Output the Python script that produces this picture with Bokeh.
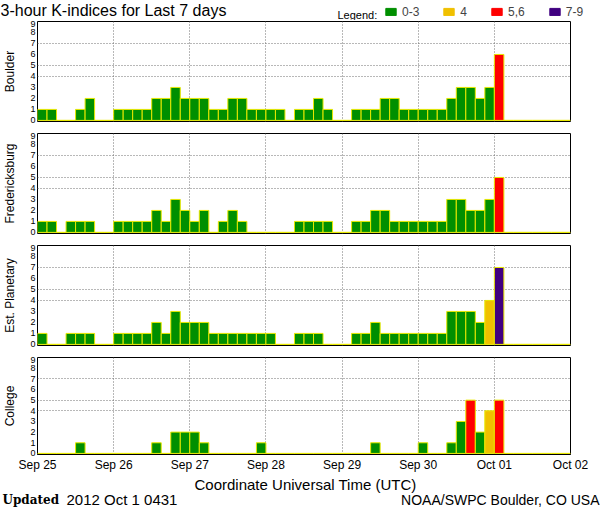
from bokeh.plotting import figure
from bokeh.models import Range1d, FixedTicker, Label, Legend, LegendItem, ColumnDataSource
from bokeh.layouts import column
from bokeh.embed import file_html
from bokeh.resources import INLINE

# ---------------- data ----------------
day_labels = ["Sep 25", "Sep 26", "Sep 27", "Sep 28", "Sep 29", "Sep 30", "Oct 01", "Oct 02"]
stations = ["Boulder", "Fredericksburg", "Est. Planetary", "College"]

boulder = [1, 1, 0, 0, 1, 2, 0, 0,
           1, 1, 1, 1, 2, 2, 3, 2,
           2, 2, 1, 1, 2, 2, 1, 1,
           1, 1, 0, 1, 1, 2, 1, 0,
           0, 1, 1, 1, 2, 2, 1, 1,
           1, 1, 1, 2, 3, 3, 2, 3,
           6, 0, 0, 0, 0, 0, 0, 0]
fredericksburg = [1, 1, 0, 1, 1, 1, 0, 0,
                  1, 1, 1, 1, 2, 1, 3, 2,
                  1, 2, 0, 1, 2, 1, 0, 0,
                  0, 0, 0, 1, 1, 1, 1, 0,
                  0, 1, 1, 2, 2, 1, 1, 1,
                  1, 1, 1, 3, 3, 2, 2, 3,
                  5, 0, 0, 0, 0, 0, 0, 0]
planetary = [1, 0, 0, 1, 1, 1, 0, 0,
             1, 1, 1, 1, 2, 1, 3, 2,
             2, 2, 1, 1, 1, 1, 1, 1,
             1, 0, 0, 1, 1, 1, 0, 0,
             0, 1, 1, 2, 1, 1, 1, 1,
             1, 1, 1, 3, 3, 3, 2, 4,
             7, 0, 0, 0, 0, 0, 0, 0]
college = [0, 0, 0, 0, 1, 0, 0, 0,
           0, 0, 0, 0, 1, 0, 2, 2,
           2, 1, 0, 0, 0, 0, 0, 1,
           0, 0, 0, 0, 0, 0, 0, 0,
           0, 0, 0, 1, 0, 0, 0, 0,
           1, 0, 0, 1, 3, 5, 2, 4,
           5, 0, 0, 0, 0, 0, 0, 0]
series = [boulder, fredericksburg, planetary, college]

level_names = ["0-3", "4", "5,6", "7-9"]
level_colors = ["#008F00", "#F0C000", "#FF0000", "#400080"]
y_ticks = list(range(10))
y_grid_ticks = [4, 5, 7]

title_text = "3-hour K-indices for Last 7 days"
x_title = "Coordinate Universal Time (UTC)"
updated_word = "Updated"
updated_text = "2012 Oct  1 0431"
credit_text = "NOAA/SWPC Boulder, CO USA"

# ---------------- style ----------------
FONT = "Liberation Sans"
BAR_LINE = "#E8E800"
GRID_COLOR = "#707070"


def level_of(k):
    if k <= 3:
        return 0
    if k == 4:
        return 1
    if k <= 6:
        return 2
    return 3


def blank_fig(h):
    f = figure(width=600, height=h, x_range=Range1d(0, 1), y_range=Range1d(0, 1),
               x_axis_location=None, y_axis_location=None,
               output_backend="svg", toolbar_location=None,
               min_border_left=0, min_border_right=0,
               min_border_top=0, min_border_bottom=0)
    f.outline_line_color = None
    f.xgrid.visible = False
    f.ygrid.visible = False
    f.background_fill_color = "white"
    f.border_fill_color = "white"
    return f


# ---------------- header (title + legend) ----------------
header = blank_fig(20)
header.add_layout(Label(x=0, y=19, x_units="screen", y_units="screen",
                        text=title_text, text_font=FONT,
                        text_font_size="16px", text_baseline="top",
                        text_align="left", text_color="black"))
header.add_layout(Label(x=337, y=6, x_units="screen", y_units="screen",
                        text="Legend:", text_font=FONT,
                        text_font_size="11px", text_baseline="middle",
                        text_align="left", text_color="black"))
# legend key: one (hidden) renderer holding the four colour classes
key_src = ColumnDataSource(dict(x=list(range(len(level_names))),
                                top=[0] * len(level_names),
                                color=level_colors, name=level_names))
key_r = header.vbar(x="x", top="top", width=0.5, source=key_src,
                    fill_color="color", line_color="color")
key_r.visible = False
legend = Legend(items=[LegendItem(label=n, renderers=[key_r], index=i)
                       for i, n in enumerate(level_names)],
                orientation="horizontal", location=(384, 1.5),
                glyph_width=13, glyph_height=9, label_standoff=5,
                spacing=23, padding=0, margin=0,
                label_width=1, label_height=9,
                border_line_color=None, background_fill_alpha=0,
                inactive_fill_alpha=0, click_policy="none",
                label_text_font=FONT, label_text_font_size="12px",
                label_text_baseline="middle")
header.add_layout(legend)

# ---------------- panels ----------------
heights = [112, 112, 112, 118]
bottoms = [11, 11, 11, 17]

panels = []
for idx, (name, vals) in enumerate(zip(stations, series)):
    last = idx == len(stations) - 1
    p = figure(width=600, height=heights[idx],
               x_range=Range1d(0, 7), y_range=Range1d(-0.1, 9),
               x_axis_location="below" if last else None,
               output_backend="svg", toolbar_location=None,
               min_border_left=36, min_border_right=30,
               min_border_top=1, min_border_bottom=bottoms[idx])
    p.outline_line_color = "black"
    p.outline_line_width = 1
    p.outline_line_alpha = 1
    p.background_fill_color = "white"
    p.border_fill_color = "white"

    # bars: 3-hour intervals, x in days since Sep 25 00 UT
    xs = [(i + 0.5) / 8 for i in range(len(vals))]
    cols = [level_colors[level_of(k)] for k in vals]
    src = ColumnDataSource(dict(x=xs, k=vals, color=cols))
    p.vbar(x="x", top="k", bottom=0, width=1 / 8, source=src,
           fill_color="color", line_color=BAR_LINE, line_width=1)

    # grids
    p.xgrid.ticker = FixedTicker(ticks=list(range(len(day_labels))))
    p.ygrid.ticker = FixedTicker(ticks=y_grid_ticks)
    for g in (p.xgrid, p.ygrid):
        g.grid_line_color = GRID_COLOR
        g.grid_line_dash = "1 2"
        g.grid_line_width = 1

    # y axis
    ya = p.yaxis[0]
    ya.ticker = FixedTicker(ticks=y_ticks)
    ya.axis_label = name
    ya.axis_label_text_font = FONT
    ya.axis_label_text_font_size = "12px"
    ya.axis_label_text_font_style = "normal"
    ya.axis_label_text_color = "black"
    ya.axis_label_standoff = 10
    ya.major_label_text_font = FONT
    ya.major_label_text_font_size = "9px"
    ya.major_label_text_color = "black"
    ya.major_label_standoff = 2
    ya.axis_line_color = None
    ya.major_tick_in = 0
    ya.major_tick_out = 0
    ya.minor_tick_in = 0
    ya.minor_tick_out = 0

    if last:
        xa = p.xaxis[0]
        xa.ticker = FixedTicker(ticks=list(range(len(day_labels))))
        xa.major_label_overrides = {i: lab for i, lab in enumerate(day_labels)}
        xa.major_label_text_font = FONT
        xa.major_label_text_font_size = "12px"
        xa.major_label_text_color = "black"
        xa.major_label_standoff = 3
        xa.axis_line_color = "black"
        xa.major_tick_in = 0
        xa.major_tick_out = 0
        xa.minor_tick_in = 0
        xa.minor_tick_out = 0

    panels.append(p)

# ---------------- footer (x title + credits) ----------------
footer = blank_fig(36)
footer.add_layout(Label(x=305, y=26, x_units="screen", y_units="screen",
                        text=x_title, text_font=FONT,
                        text_font_size="15px", text_baseline="middle",
                        text_align="center", text_color="black"))
footer.add_layout(Label(x=2, y=11, x_units="screen", y_units="screen",
                        text=updated_word, text_font="DejaVu Serif",
                        text_font_style="bold", text_font_size="12px",
                        text_baseline="middle", text_align="left", text_color="black"))
footer.add_layout(Label(x=66, y=11, x_units="screen", y_units="screen",
                        text=updated_text, text_font=FONT,
                        text_font_size="15px", text_baseline="middle",
                        text_align="left", text_color="black"))
footer.add_layout(Label(x=599, y=11, x_units="screen", y_units="screen",
                        text=credit_text, text_font=FONT,
                        text_font_size="14px", text_baseline="middle",
                        text_align="right", text_color="black"))

layout = column(header, column(*panels, spacing=0), footer, spacing=0)
open("out.html", "w").write(file_html(layout, INLINE))
